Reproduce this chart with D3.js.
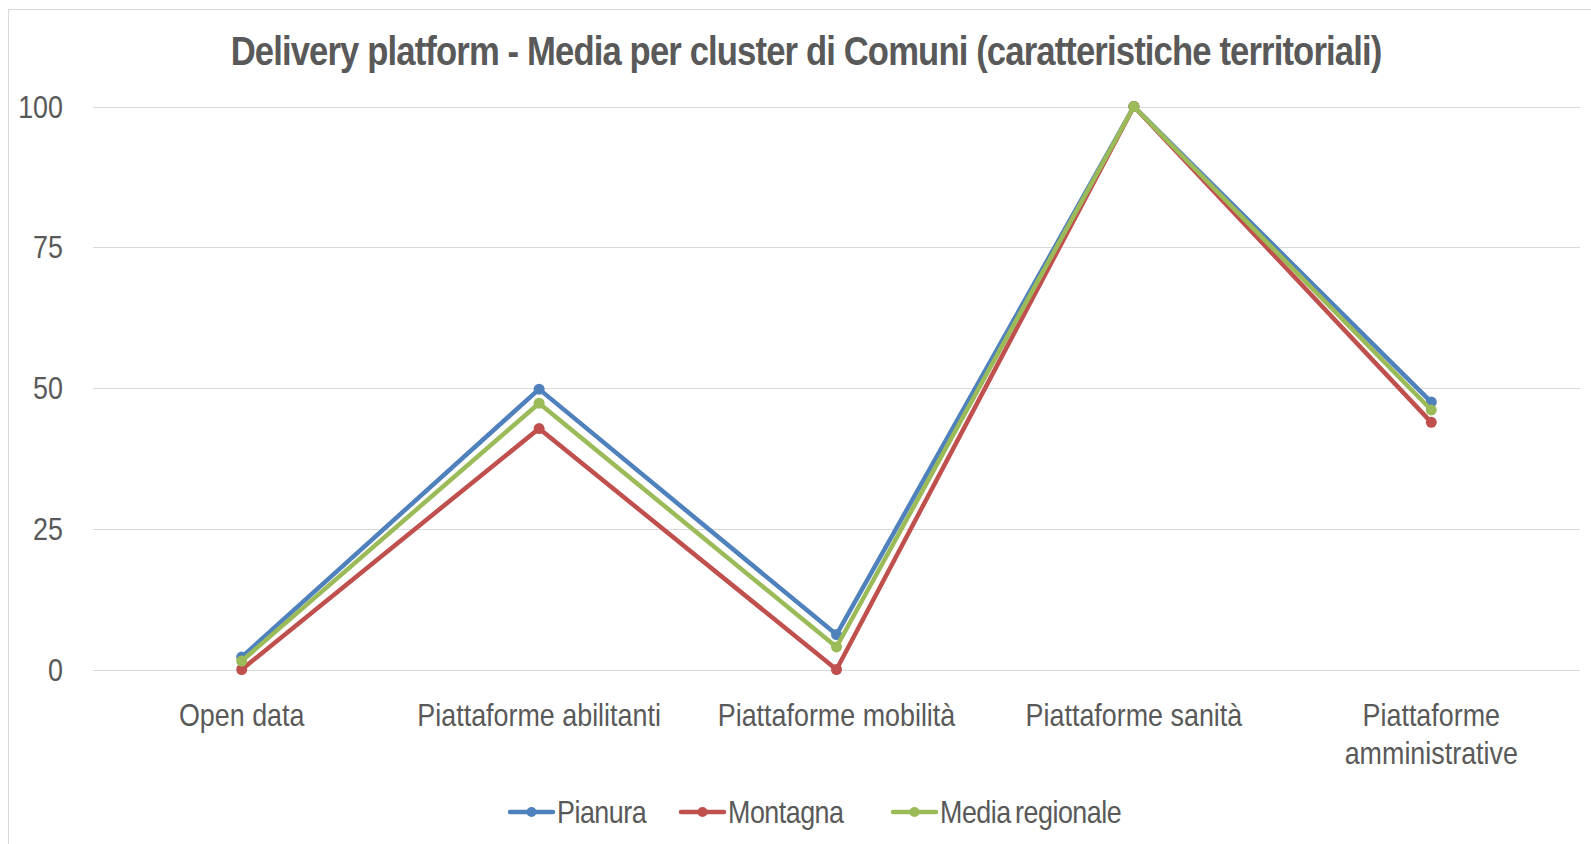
<!DOCTYPE html>
<html lang="it">
<head>
    <meta charset="UTF-8">
    <script src="https://d3js.org/d3.v7.min.js"></script>
    <title>Delivery platform</title>
    <style>
        html, body {
            margin: 0;
            padding: 0;
            background: white;
            overflow: hidden;
        }
        text {
            font-family: "Liberation Sans", Arial, sans-serif;
            fill: #595959;
        }
        .legend text {
            word-spacing: -3px;
            letter-spacing: -0.6px;
        }
    </style>
</head>
<body>
    <script>
        // DATA
        const categories = ["Open data", "Piattaforme abilitanti", "Piattaforme mobilità", "Piattaforme sanità", "Piattaforme amministrative"];
        const pianura = [2.2, 49.8, 6.2, 100, 47.5];
        const montagna = [0, 42.8, 0, 100, 43.9];
        const mediaRegionale = [1.5, 47.3, 4.0, 100, 46.1];
        const yTicks = [0, 25, 50, 75, 100];
        const seriesNames = ["Pianura", "Montagna", "Media regionale"];
        const seriesColors = ["#4F81BD", "#C0504D", "#9BBB59"];

        const width = 1591;
        const height = 844;
        const squeeze = 0.84; // narrow look of the original font

        const svg = d3.select('body')
          .append('svg')
          .attr('width', width)
          .attr('height', height);

        // chart border
        svg.append('rect')
          .attr('x', 8.5)
          .attr('y', 9.5)
          .attr('width', width + 20)
          .attr('height', height + 20)
          .attr('fill', 'white')
          .attr('stroke', '#d9d9d9');

        const margin = { top: 106.5, right: 1580, bottom: 669.5, left: 93 };

        const x = d3.scalePoint()
          .domain(categories)
          .range([margin.left, margin.right])
          .padding(0.5);

        const y = d3.scaleLinear()
          .domain([0, 100])
          .range([margin.bottom, margin.top]);

        // text helper: squeezed horizontally around its anchor
        const label = (g, str, tx, ty, size, anchor, weight) => {
          return g.append('text')
            .attr('transform', `translate(${tx},${ty}) scale(${squeeze},1)`)
            .attr('text-anchor', anchor)
            .attr('font-size', size)
            .attr('font-weight', weight || 'normal')
            .text(str);
        };

        // gridlines
        svg.append('g')
          .selectAll('line')
          .data(yTicks)
          .join('line')
          .attr('x1', margin.left)
          .attr('x2', margin.right)
          .attr('y1', d => Math.round(y(d)) + 0.5)
          .attr('y2', d => Math.round(y(d)) + 0.5)
          .attr('stroke', '#d9d9d9')
          .attr('stroke-width', 1);

        // y labels
        const yAxis = svg.append('g');
        yTicks.forEach(t => label(yAxis, t, 63, y(t) + 11, 32, 'end'));

        // x labels (wrap the last one)
        const xAxis = svg.append('g');
        categories.forEach((c, i) => {
          const lines = i === categories.length - 1 ? ["Piattaforme", "amministrative"] : [c];
          lines.forEach((ln, j) => label(xAxis, ln, x(c), 726 + j * 38, 32, 'middle'));
        });

        // series
        const series = [pianura, montagna, mediaRegionale];
        const line = d3.line()
          .x((d, i) => x(categories[i]))
          .y(d => y(d));

        series.forEach((vals, s) => {
          const g = svg.append('g');
          g.append('path')
            .datum(vals)
            .attr('d', line)
            .attr('fill', 'none')
            .attr('stroke', seriesColors[s])
            .attr('stroke-width', 4.5)
            .attr('stroke-linejoin', 'round');
          g.selectAll('circle')
            .data(vals)
            .join('circle')
            .attr('cx', (d, i) => x(categories[i]))
            .attr('cy', d => y(d))
            .attr('r', 5.5)
            .attr('fill', seriesColors[s]);
        });

        // title
        const title = svg.append('text')
          .attr('text-anchor', 'middle')
          .attr('font-size', 40)
          .attr('font-weight', 'bold')
          .attr('letter-spacing', -1)
          .text("Delivery platform - Media per cluster di Comuni (caratteristiche territoriali)");
        const tw = title.node().getComputedTextLength();
        title.attr('transform', `translate(806,65) scale(${1151 / tw},1)`);

        // legend
        const legendX = [510, 681, 893];
        const legend = svg.append('g').attr('class', 'legend');
        seriesNames.forEach((name, i) => {
          legend.append('line')
            .attr('x1', legendX[i])
            .attr('x2', legendX[i] + 43)
            .attr('y1', 812)
            .attr('y2', 812)
            .attr('stroke', seriesColors[i])
            .attr('stroke-width', 4.5)
            .attr('stroke-linecap', 'round');
          legend.append('circle')
            .attr('cx', legendX[i] + 21.5)
            .attr('cy', 812)
            .attr('r', 5)
            .attr('fill', seriesColors[i]);
          label(legend, name, legendX[i] + 47, 823, 32, 'start');
        });
    </script>
</body>
</html>
